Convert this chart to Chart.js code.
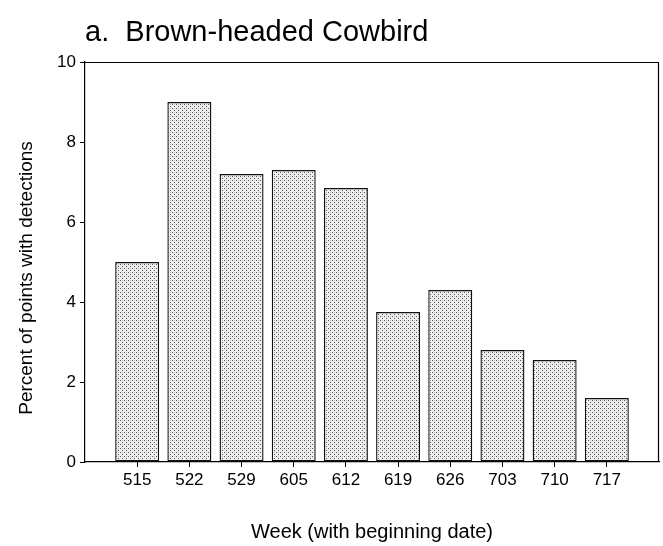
<!DOCTYPE html>
<html>
<head>
<meta charset="utf-8">
<script src="https://cdn.jsdelivr.net/npm/chart.js@4/dist/chart.umd.min.js"></script>
<style>
  html, body { margin: 0; padding: 0; background: #fff; }
  canvas { display: block; }
</style>
</head>
<body>
<canvas id="chart" width="663" height="546"></canvas>
<script>
// Week of survey (month + day of the first day of the week)
const weeks = ['515', '522', '529', '605', '612', '619', '626', '703', '710', '717'];
// Percent of survey points where the species was detected
const percentDetected = [5.0, 9.0, 7.2, 7.3, 6.85, 3.75, 4.3, 2.8, 2.55, 1.6];
// Values shown on the vertical axis
const yTickValues = [0, 2, 4, 6, 8, 10];

const titleText = 'a.  Brown-headed Cowbird';
const xTitle = 'Week (with beginning date)';
const yTitle = 'Percent of points with detections';

// Empty slot on each side of the weeks so the bars sit inside the frame
const labels = [''].concat(weeks, ['']);
const values = [null].concat(percentDetected, [null]);

// Stippled grey fill, like a halftone screen
function stipple() {
  const c = document.createElement('canvas');
  c.width = 4; c.height = 4;
  const g = c.getContext('2d');
  g.fillStyle = '#efefef';
  g.fillRect(0, 0, 4, 4);
  g.fillStyle = '#555555';
  g.fillRect(0, 0, 1, 1);
  g.fillRect(2, 2, 1, 1);
  g.fillStyle = '#c4c4c4';
  g.fillRect(2, 0, 1, 1);
  return document.getElementById('chart').getContext('2d').createPattern(c, 'repeat');
}

// Closes the plot frame on top and right, and writes the vertical axis title
const framePlugin = {
  id: 'frame',
  afterDraw(chart) {
    const { ctx, chartArea: a } = chart;
    ctx.save();
    ctx.strokeStyle = '#000';
    ctx.lineWidth = 1.2;
    ctx.beginPath();
    ctx.moveTo(a.left, a.top + 0.5);
    ctx.lineTo(a.right - 0.5, a.top + 0.5);
    ctx.lineTo(a.right - 0.5, a.bottom);
    ctx.stroke();

    ctx.fillStyle = '#000';
    ctx.font = "19px 'Liberation Sans', Arial, sans-serif";
    ctx.textAlign = 'center';
    ctx.textBaseline = 'middle';
    ctx.translate(27, 278);
    ctx.rotate(-Math.PI / 2);
    ctx.fillText(yTitle, 0, 0);
    ctx.restore();
  }
};

Chart.defaults.font.family = "'Liberation Sans', Arial, sans-serif";
Chart.defaults.color = '#000';

new Chart(document.getElementById('chart'), {
  type: 'bar',
  data: {
    labels: labels,
    datasets: [{
      data: values,
      backgroundColor: stipple(),
      borderColor: '#111',
      borderWidth: 1.4,
      borderSkipped: false,
      categoryPercentage: 1,
      barPercentage: 0.843
    }]
  },
  options: {
    responsive: false,
    animation: false,
    layout: { padding: { left: 0, right: 4, top: 0, bottom: 0 } },
    plugins: {
      legend: { display: false },
      tooltip: { enabled: false },
      title: {
        display: true,
        text: titleText,
        align: 'start',
        fullSize: false,
        color: '#000',
        font: { size: 29, weight: 'normal' },
        padding: { top: 16, bottom: 11.2 }
      }
    },
    scales: {
      x: {
        type: 'category',
        offset: false,
        afterFit(scale) { scale.height = 84; },
        border: { display: true, color: '#000', width: 1.2 },
        grid: {
          offset: false,
          drawOnChartArea: false,
          drawTicks: true,
          tickLength: 5,
          tickColor: (ctx) => (ctx.index === 0 || ctx.index === labels.length - 1) ? 'rgba(0,0,0,0)' : '#000'
        },
        ticks: {
          autoSkip: false,
          maxRotation: 0,
          padding: 3,
          font: { size: 17 },
          color: '#000'
        },
        title: {
          display: true,
          text: xTitle,
          font: { size: 20 },
          color: '#000',
          padding: { top: 0, bottom: 2 }
        }
      },
      y: {
        min: 0,
        max: 10,
        afterFit(scale) { scale.width = 85; },
        afterBuildTicks(scale) { scale.ticks = yTickValues.map(v => ({ value: v })); },
        border: { display: true, color: '#000', width: 1.2 },
        grid: {
          drawOnChartArea: false,
          drawTicks: true,
          tickLength: 5,
          tickColor: '#000'
        },
        ticks: {
          padding: 4,
          font: { size: 17 },
          color: '#000'
        }
      }
    }
  },
  plugins: [framePlugin]
});
</script>
</body>
</html>
